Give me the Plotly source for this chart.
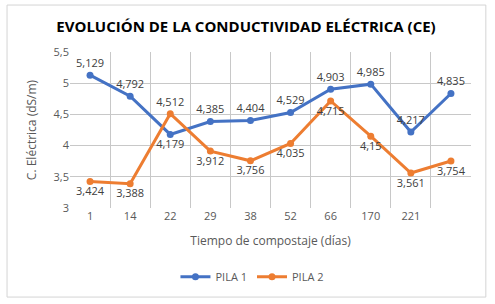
import plotly.graph_objects as go

categories = ["1", "14", "22", "29", "38", "52", "66", "170", "221", ""]
pila1 = [5.129, 4.792, 4.179, 4.385, 4.404, 4.529, 4.903, 4.985, 4.217, 4.835]
pila2 = [3.424, 3.388, 4.512, 3.912, 3.756, 4.035, 4.715, 4.15, 3.561, 3.754]
pos1 = ["top center", "top center", "bottom center", "top center", "top center",
        "top center", "top center", "top center", "top center", "top center"]
pos2 = ["bottom center", "bottom center", "top center", "bottom center", "bottom center",
        "bottom center", "bottom center", "bottom center", "bottom center", "bottom center"]

def fmt(v):
    return f"{v:g}".replace(".", ",")

xs = list(range(len(categories)))
bounds = [i - 0.5 for i in range(len(categories) + 1)]
FONT = "Open Sans, Liberation Sans, sans-serif"
XR = [-0.5, len(categories) - 0.5]
GRID = "#C8C8C8"

fig = go.Figure()
fig.add_trace(go.Scatter(x=XR, y=[3, 3], xaxis="x2", mode="lines",
                         line=dict(width=0), hoverinfo="skip", showlegend=False))
fig.add_trace(go.Scatter(
    x=xs, y=pila1, name="PILA 1", mode="lines+markers+text",
    line=dict(color="#4472C4", width=3), marker=dict(size=7, color="#4472C4"),
    text=[fmt(v) for v in pila1], textposition=pos1,
    textfont=dict(size=11, color="#404040", family=FONT), cliponaxis=False))
fig.add_trace(go.Scatter(
    x=xs, y=pila2, name="PILA 2", mode="lines+markers+text",
    line=dict(color="#ED7D31", width=3), marker=dict(size=7, color="#ED7D31"),
    text=[fmt(v) for v in pila2], textposition=pos2,
    textfont=dict(size=11, color="#404040", family=FONT), cliponaxis=False))

fig.update_layout(
    template="none",
    width=495, height=304,
    margin=dict(l=70, r=24, t=52, b=96),
    paper_bgcolor="white", plot_bgcolor="white",
    separators=", ",
    font=dict(family=FONT, color="#595959", size=11),
    title=dict(text="<b>EVOLUCIÓN DE LA CONDUCTIVIDAD ELÉCTRICA (CE)</b>",
               x=0.497, xanchor="center", xref="container", y=0.911, yanchor="middle",
               font=dict(size=15, color="#000000", family=FONT)),
    showlegend=True,
    legend=dict(orientation="h", x=0.455, xanchor="center", y=-0.44, yanchor="middle",
                font=dict(size=11, color="#595959"), bgcolor="rgba(0,0,0,0)"),
    xaxis=dict(range=XR, tickmode="array", automargin=False,
               tickvals=xs, ticktext=categories, showgrid=False, zeroline=False,
               showline=False, ticks="", tickfont=dict(size=11, color="#595959"),
               title=dict(text="Tiempo de compostaje (días)", standoff=14,
                          font=dict(size=12, color="#595959"))),
    xaxis2=dict(range=XR, overlaying="x", tickmode="array", tickvals=bounds,
                showticklabels=False, showgrid=True, gridcolor=GRID, gridwidth=1,
                zeroline=False, ticks="", showline=False, automargin=False),
    yaxis=dict(range=[3, 5.5], dtick=0.5, tick0=3, tickmode="linear", showgrid=True,
               gridcolor=GRID, gridwidth=1, automargin=False,
               zeroline=False, ticks="", showline=False,
               tickfont=dict(size=11, color="#595959"),
               title=dict(text="C. Eléctrica (dS/m)", standoff=14,
                          font=dict(size=12, color="#595959"))),
    shapes=[dict(type="rect", xref="paper", yref="paper",
                 x0=-0.157, x1=1.037, y0=-0.571, y1=1.301,
                 line=dict(color="#D4D4D4", width=1), layer="below")],
)

fig.write_html("out.html", config={"displayModeBar": False},
               post_script="document.body.style.margin='0';")
